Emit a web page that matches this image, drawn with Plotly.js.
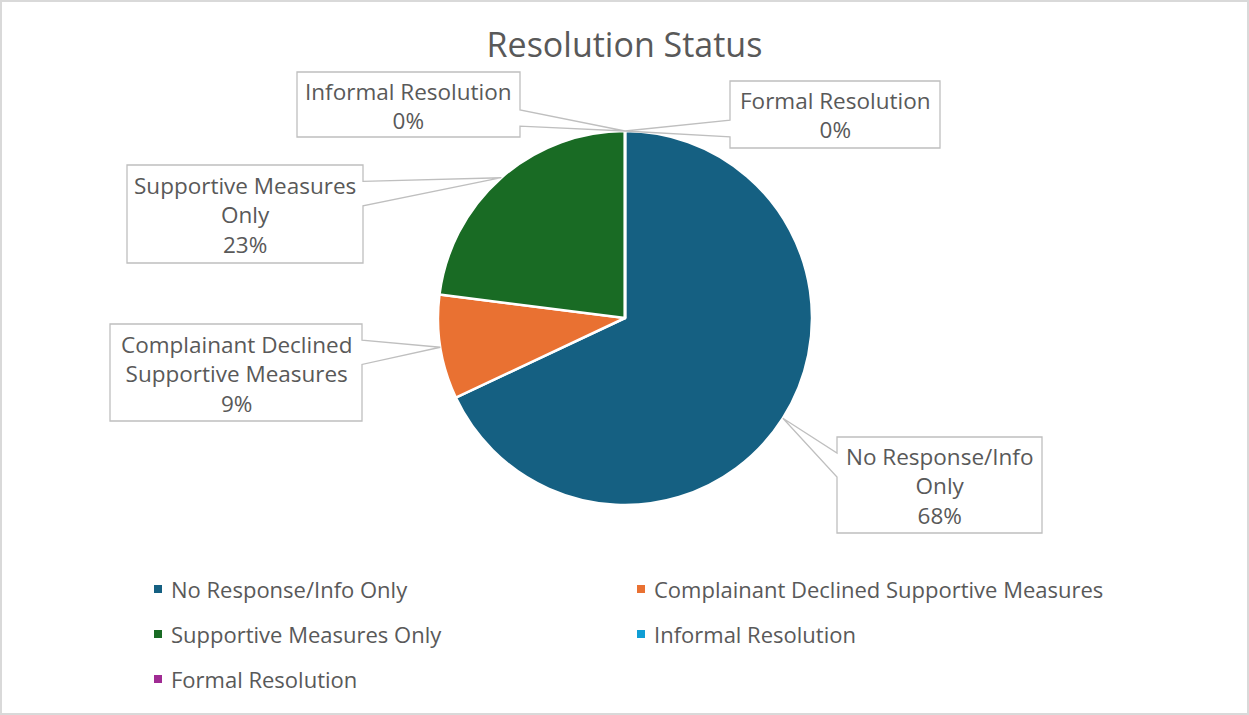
<!DOCTYPE html>
<html>
<head>
<meta charset="utf-8">
<script src="https://cdn.plot.ly/plotly-3.0.1.min.js"></script>
<style>html,body{margin:0;padding:0;background:#fff;}#chart{width:1249px;height:715px;}</style>
</head>
<body>
<div id="chart"></div>
<script>
// ---- data ----
const categories = ["No Response/Info Only", "Complainant Declined Supportive Measures", "Supportive Measures Only", "Informal Resolution", "Formal Resolution"];
const shares = [68, 9, 23, 0, 0];
const sliceColors = ["#156082", "#E97132", "#196B24", "#0F9ED5", "#A02B93"];
const chartTitle = "Resolution Status";

// ---- layout constants (pixels) ----
const W = 1249, H = 715;
const pieCx = 625, pieCy = 318, pieR = 187;
const labelBoxes = [
  {x0: 837, y0: 437, x1: 1042, y1: 533},
  {x0: 110, y0: 324, x1: 362, y1: 421},
  {x0: 127, y0: 165, x1: 363, y1: 263},
  {x0: 297, y0: 72,  x1: 520, y1: 137},
  {x0: 730, y0: 81,  x1: 940, y1: 148}
];
const legendLeft = 158, legendTop = 589, legendColStep = 483, legendRowStep = 45, legendTextGap = 11, legendMarkHalf = 4;
const textColor = "#595959";
const fontFam = "'Open Sans', 'Noto Sans', sans-serif";

const px = x => x / W;
const py = y => 1 - y / H;

function wrap(s, maxChars) {
  const words = s.split(" ");
  const lines = [];
  let cur = "";
  words.forEach(w => {
    if (cur === "") cur = w;
    else if ((cur + " " + w).length <= maxChars) cur += " " + w;
    else { lines.push(cur); cur = w; }
  });
  if (cur) lines.push(cur);
  return lines.join("<br>");
}

const total = shares.reduce((a, b) => a + b, 0);
const shapes = [];
const annotations = [];
let cum = 0;
shares.forEach((v, i) => {
  const mid = (cum + v / 2) / total * 2 * Math.PI;
  cum += v;
  const tx = pieCx + pieR * Math.sin(mid);
  const ty = pieCy - pieR * Math.cos(mid);
  const b = labelBoxes[i];
  const w = b.x1 - b.x0, h = b.y1 - b.y0;
  const bcx = (b.x0 + b.x1) / 2, bcy = (b.y0 + b.y1) / 2;
  const dx = tx - bcx, dy = ty - bcy;
  let pts;
  if (Math.abs(dx) / w >= Math.abs(dy) / h) {
    const ya = dy < 0 ? b.y0 + h / 6 : b.y0 + h * 7 / 12;
    const yb = dy < 0 ? b.y0 + h * 5 / 12 : b.y0 + h * 5 / 6;
    if (dx > 0) {
      pts = [[b.x0, b.y0], [b.x1, b.y0], [b.x1, ya], [tx, ty], [b.x1, yb], [b.x1, b.y1], [b.x0, b.y1]];
    } else {
      pts = [[b.x0, b.y0], [b.x1, b.y0], [b.x1, b.y1], [b.x0, b.y1], [b.x0, yb], [tx, ty], [b.x0, ya]];
    }
  } else {
    const xa = dx < 0 ? b.x0 + w / 6 : b.x0 + w * 7 / 12;
    const xb = dx < 0 ? b.x0 + w * 5 / 12 : b.x0 + w * 5 / 6;
    if (dy > 0) {
      pts = [[b.x0, b.y0], [b.x1, b.y0], [b.x1, b.y1], [xb, b.y1], [tx, ty], [xa, b.y1], [b.x0, b.y1]];
    } else {
      pts = [[b.x0, b.y0], [xa, b.y0], [tx, ty], [xb, b.y0], [b.x1, b.y0], [b.x1, b.y1], [b.x0, b.y1]];
    }
  }
  const path = pts.map((p, k) => (k === 0 ? "M" : "L") + px(p[0]).toFixed(5) + "," + py(p[1]).toFixed(5)).join(" ") + " Z";
  shapes.push({type: "path", xref: "paper", yref: "paper", path: path,
    fillcolor: "#ffffff", line: {color: "#bfbfbf", width: 1.3}, layer: "above"});
  annotations.push({xref: "paper", yref: "paper", x: px(bcx), y: py(bcy + 1),
    xanchor: "center", yanchor: "middle", showarrow: false, align: "center",
    text: wrap(categories[i], 20) + "<br>" + Math.round(v / total * 100) + "%",
    font: {family: fontFam, size: 22.5, color: textColor}});

  // legend entry (two columns)
  const col = i % 2, row = Math.floor(i / 2);
  const lx = legendLeft + col * legendColStep, ly = legendTop + row * legendRowStep;
  shapes.push({type: "rect", xref: "paper", yref: "paper",
    x0: px(lx - legendMarkHalf), x1: px(lx + legendMarkHalf),
    y0: py(ly + legendMarkHalf), y1: py(ly - legendMarkHalf),
    fillcolor: sliceColors[i], line: {width: 0}, layer: "above"});
  annotations.push({xref: "paper", yref: "paper", x: px(lx + legendTextGap), y: py(ly),
    xanchor: "left", yanchor: "middle", showarrow: false, align: "left",
    text: categories[i], font: {family: fontFam, size: 22, color: textColor}});
});

// chart border
shapes.push({type: "rect", xref: "paper", yref: "paper", x0: px(1), x1: px(1248), y0: py(714), y1: py(1),
  line: {color: "#d9d9d9", width: 2}, fillcolor: "rgba(0,0,0,0)", layer: "above"});

const trace = {
  type: "pie",
  labels: categories,
  values: shares,
  marker: {colors: sliceColors, line: {color: "#ffffff", width: 2.5}},
  sort: false,
  direction: "clockwise",
  rotation: 0,
  textinfo: "none",
  hoverinfo: "label+percent",
  domain: {x: [px(pieCx - pieR), px(pieCx + pieR)], y: [py(pieCy + pieR), py(pieCy - pieR)]},
  showlegend: false
};

const layout = {
  width: W, height: H,
  margin: {l: 0, r: 0, t: 0, b: 0},
  paper_bgcolor: "#ffffff",
  font: {family: fontFam, color: textColor},
  title: {text: chartTitle, x: 0.5, xanchor: "center", y: py(45), yanchor: "middle",
    font: {family: fontFam, size: 34, color: textColor}},
  showlegend: false,
  shapes: shapes,
  annotations: annotations
};

Plotly.newPlot("chart", [trace], layout, {displayModeBar: false, staticPlot: true});
</script>
</body>
</html>
